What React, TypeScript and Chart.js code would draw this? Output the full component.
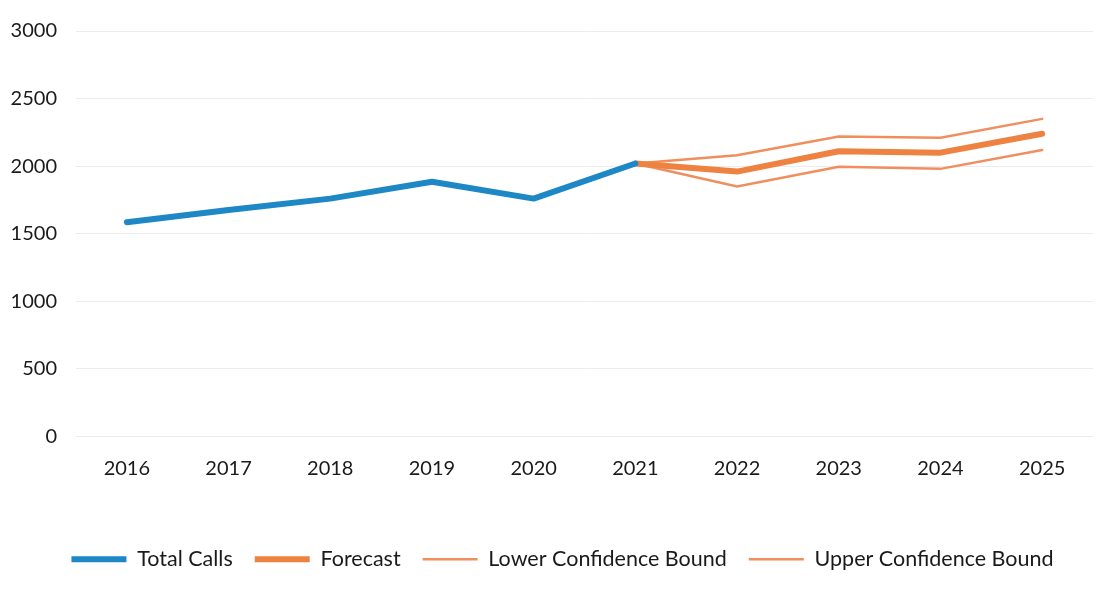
import React, { useEffect, useRef } from "react";
import { Chart, registerables } from "chart.js";

Chart.register(...registerables);

const years = ["2016", "2017", "2018", "2019", "2020", "2021", "2022", "2023", "2024", "2025"];
const totalCalls = [1585, 1675, 1760, 1885, 1760, 2020, null, null, null, null];
const forecast = [null, null, null, null, null, 2020, 1960, 2110, 2100, 2240];
const lowerBound = [null, null, null, null, null, 2020, 1850, 1995, 1980, 2120];
const upperBound = [null, null, null, null, null, 2020, 2080, 2220, 2210, 2350];
const yTicks = [0, 500, 1000, 1500, 2000, 2500, 3000];

const BLUE = "#1E88C7";
const ORANGE = "#EE8240";
const ORANGE_LIGHT = "#F08E5E";
const FONT = "Lato, 'Open Sans', sans-serif";

const shiftLegend = {
  id: "shiftLegend",
  afterLayout(chart: any) {
    const l = chart.legend;
    if (l) {
      l.left += 16;
      l.right += 16;
    }
  },
};

export default function App() {
  const ref = useRef<HTMLCanvasElement | null>(null);
  useEffect(() => {
    if (!ref.current) return;
    const chart = new Chart(ref.current, {
      type: "line",
      plugins: [shiftLegend],
      data: {
        labels: years,
        datasets: [
          {
            label: "Total Calls",
            data: totalCalls,
            borderColor: BLUE,
            backgroundColor: BLUE,
            borderWidth: 6,
            borderCapStyle: "round",
            borderJoinStyle: "round",
            pointRadius: 0,
            spanGaps: false,
          },
          {
            label: "Forecast",
            data: forecast,
            borderColor: ORANGE,
            backgroundColor: ORANGE,
            borderWidth: 6,
            borderCapStyle: "round",
            borderJoinStyle: "round",
            pointRadius: 0,
          },
          {
            label: "Lower Confidence Bound",
            data: lowerBound,
            borderColor: ORANGE_LIGHT,
            backgroundColor: ORANGE_LIGHT,
            borderWidth: 2.5,
            borderCapStyle: "round",
            pointRadius: 0,
          },
          {
            label: "Upper Confidence Bound",
            data: upperBound,
            borderColor: ORANGE_LIGHT,
            backgroundColor: ORANGE_LIGHT,
            borderWidth: 2.5,
            borderCapStyle: "round",
            pointRadius: 0,
          },
        ],
      },
      options: {
        animation: false,
        responsive: false,
        maintainAspectRatio: false,
        layout: { padding: { top: 28, right: 27, left: 0, bottom: 16 } },
        plugins: {
          tooltip: { enabled: false },
          legend: {
            position: "bottom",
            labels: {
              usePointStyle: true,
              pointStyle: "line",
              boxWidth: 55,
              pointStyleWidth: 55,
              boxHeight: 6,
              padding: 22,
              color: "#1a1a1a",
              font: { family: FONT, size: 21.5 },
            },
          },
        },
        scales: {
          x: {
            offset: true,
            grid: { display: false, drawTicks: false },
            border: { display: false },
            ticks: {
              color: "#1a1a1a",
              padding: 20,
              maxRotation: 0,
              font: { family: FONT, size: 20 },
            },
            afterFit: (s: any) => {
              s.height = 90;
            },
          },
          y: {
            min: 0,
            max: 3000,
            afterBuildTicks: (s: any) => {
              s.ticks = yTicks.map((v) => ({ value: v }));
            },
            grid: { color: "#ececec", lineWidth: 1, drawTicks: false },
            border: { display: false },
            ticks: {
              color: "#1a1a1a",
              padding: 19,
              font: { family: FONT, size: 20 },
              callback: (v: any) => String(v),
            },
            afterFit: (s: any) => {
              s.width = 76;
            },
          },
        },
      },
    });
    return () => chart.destroy();
  }, []);
  return (
    <div style={{ position: "fixed", left: 0, top: 0, width: 1120, height: 596, background: "#fff" }}>
      <canvas ref={ref} width={1120} height={596} style={{ width: 1120, height: 596 }} />
    </div>
  );
}
